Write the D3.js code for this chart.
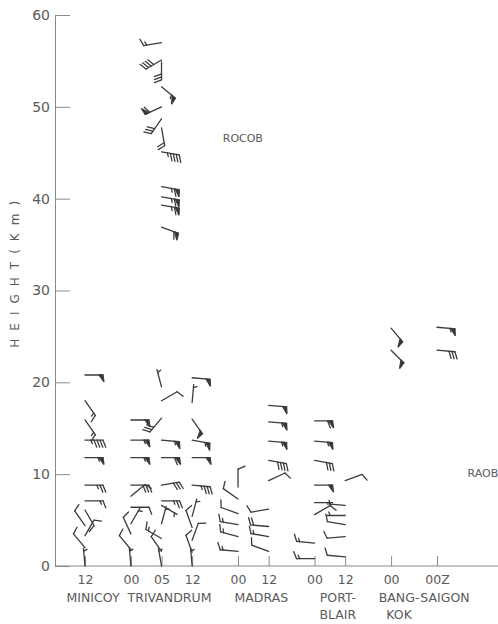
<!DOCTYPE html>
<html>
<head>
<meta charset="utf-8">
<script src="https://cdn.jsdelivr.net/npm/d3@7/dist/d3.min.js"></script>
<style>
  body { margin: 0; background: #fff; }
  text { font-family: "DejaVu Sans", sans-serif; fill: #5a5a5a; }
</style>
</head>
<body>
<script>
// stations in order along the x axis, and the observation columns (station, hour)
const stations = ['MINICOY', 'TRIVANDRUM', 'MADRAS', 'PORT-\nBLAIR', 'BANG-\nKOK', 'SAIGON'];
const columns = [
    ['MINICOY', '12'],
    ['TRIVANDRUM', '00'], ['TRIVANDRUM', '05'], ['TRIVANDRUM', '12'],
    ['MADRAS', '00'], ['MADRAS', '12'],
    ['PORT-\nBLAIR', '00'], ['PORT-\nBLAIR', '12'],
    ['BANG-\nKOK', '00'],
    ['SAIGON', '00Z']
];
const heightTicks = [0, 10, 20, 30, 40, 50, 60];

// wind barbs per column: [height km, direction deg (from), speed kt]
const minicoy12 = [
    [0, 355, 5], [2.0, 320, 10], [3.3, 30, 10], [4.4, 325, 10], [6.1, 150, 10],
    [7.1, 90, 15], [8.8, 90, 25], [11.8, 90, 55], [13.7, 90, 45],
    [15.9, 145, 15], [18.0, 145, 15], [20.8, 90, 50]
];
const trivandrum00 = [
    [0, 355, 5], [1.8, 320, 10], [3.5, 335, 10], [4.6, 30, 5], [6.4, 90, 10],
    [7.6, 50, 10], [8.8, 90, 30], [11.8, 90, 55], [13.7, 90, 55], [15.9, 90, 50]
];
const trivandrum05 = [
    [0, 350, 5], [1.6, 325, 10], [3.0, 300, 15], [4.6, 15, 5], [6.6, 120, 5],
    [7.1, 90, 25], [8.8, 80, 30], [11.8, 90, 60], [13.7, 95, 55],
    [16.1, 220, 30], [18.0, 60, 10], [19.5, 345, 5]
];
const trivandrum12 = [
    [0, 355, 5], [1.5, 340, 10], [2.8, 20, 10], [4.2, 340, 10], [5.4, 15, 5],
    [8.8, 95, 35], [11.8, 90, 50], [13.7, 100, 55], [16.0, 145, 50],
    [17.8, 5, 5], [20.5, 95, 50]
];
// rocket soundings at Trivandrum 05Z
const rocob05 = [
    [36.9, 110, 60], [39.3, 100, 65], [40.2, 100, 65], [41.3, 100, 65],
    [45.1, 100, 45], [47.7, 170, 20], [48.7, 215, 30], [50.0, 245, 60],
    [52.2, 130, 55], [54.9, 180, 30], [55.1, 240, 40], [57.0, 260, 15]
];
const madras00 = [
    [1.6, 275, 15], [3.2, 285, 15], [4.5, 280, 15], [5.7, 290, 10],
    [7.3, 305, 10], [8.6, 0, 10]
];
const madras12 = [
    [1.6, 290, 10], [3.2, 280, 15], [4.3, 275, 20], [6.2, 260, 10],
    [9.3, 65, 10], [11.5, 100, 40], [13.6, 95, 55], [15.7, 95, 55], [17.5, 95, 50]
];
const portBlair00 = [
    [0.8, 270, 15], [2.5, 275, 15], [5.6, 60, 10], [6.9, 90, 5],
    [8.8, 90, 50], [11.5, 100, 30], [13.6, 95, 55], [15.8, 90, 60]
];
const portBlair12 = [
    [1.0, 275, 10], [3.2, 265, 10], [4.5, 280, 10], [5.5, 270, 5],
    [6.6, 275, 5], [9.3, 70, 10]
];
const bangkok00 = [[23.5, 135, 50], [25.9, 140, 50]];
const saigon00 = [[23.5, 95, 30], [26.0, 95, 55]];

const barbsByColumn = [
    minicoy12, trivandrum00, trivandrum05.concat(rocob05), trivandrum12,
    madras00, madras12, portBlair00, portBlair12, bangkok00, saigon00
];

window.onload = () => {
    const width = 498;
    const height = 624;
    const x0 = 55, x1 = 498, yTop = 15, yBase = 566;

    const svg = d3.select('body')
                  .append('svg')
                  .attr('width', width)
                  .attr('height', height);

    // slot along x: step 1 inside a station, 1.5 between stations
    let slot = 0;
    const slots = columns.map((c, i) => {
        if (i > 0) slot += columns[i - 1][0] === c[0] ? 1 : 1.5;
        return slot;
    });

    const x = d3.scaleLinear().domain([0, slot]).range([85, 437]);
    const y = d3.scaleLinear().domain([0, 60]).range([yBase, yTop]);

    // y axis, ticks pointing inward
    const yAxis = svg.append('g')
        .attr('transform', `translate(${x0},0)`)
        .call(d3.axisLeft(y).tickValues(heightTicks).tickSize(-15).tickSizeOuter(0).tickPadding(5));
    yAxis.selectAll('path, line').attr('stroke', '#8a8a8a');
    yAxis.selectAll('text').style('font-size', '14px').attr('fill', '#5a5a5a');

    // base line
    svg.append('line')
        .attr('x1', x0).attr('x2', x1)
        .attr('y1', yBase).attr('y2', yBase)
        .attr('stroke', '#8a8a8a');

    // column ticks and hour labels
    const xAxis = svg.append('g')
        .attr('transform', `translate(0,${yBase})`)
        .call(d3.axisBottom(x).tickValues(slots)
              .tickFormat((d, i) => columns[i][1])
              .tickSize(-10).tickSizeOuter(0).tickPadding(9));
    xAxis.select('.domain').remove();
    xAxis.selectAll('line').attr('stroke', '#8a8a8a');
    xAxis.selectAll('text').style('font-size', '12.5px').attr('fill', '#5a5a5a');

    // station names
    stations.forEach((name) => {
        const idx = columns.map((c, i) => c[0] === name ? i : -1).filter(i => i >= 0);
        const cx = d3.mean(idx, i => x(slots[i])) + 8;
        name.split('\n').forEach((line, k) => {
            svg.append('text')
                .attr('x', cx)
                .attr('y', 602 + k * 17)
                .attr('text-anchor', 'middle')
                .style('font-size', '12.5px')
                .text(line);
        });
    });

    // y title
    svg.append('text')
        .attr('transform', `translate(19,${y(32.2)}) rotate(-90)`)
        .attr('text-anchor', 'middle')
        .style('font-size', '12px')
        .style('letter-spacing', '8px')
        .text('HEIGHT(Km)');

    // annotations
    svg.append('text')
        .attr('x', x(4.5)).attr('y', y(46.2))
        .style('font-size', '11px')
        .text('ROCOB');
    svg.append('text')
        .attr('x', x(12.5)).attr('y', y(9.7))
        .style('font-size', '11px')
        .text('RAOB');

    const barbs = svg.append('g').attr('class', 'barbs');
    barbsByColumn.forEach((list, i) => {
        list.forEach((d) => drawBarb(barbs, x(slots[i]), y(d[0]), d[1], d[2]));
    });
};

const drawBarb = (g, bx, by, dir, spd) => {
    const L = 18, F = 7, step = 3;
    const r = dir * Math.PI / 180;
    const ux = Math.sin(r), uy = -Math.cos(r);
    const px = -uy, py = ux; // clockwise side
    const tx = bx + ux * L, ty = by + uy * L;

    const b = g.append('g')
        .attr('stroke', '#3c3c3c')
        .attr('stroke-width', 1.3)
        .attr('stroke-linecap', 'round')
        .attr('fill', 'none');

    b.append('line')
        .attr('x1', bx).attr('y1', by)
        .attr('x2', tx).attr('y2', ty);

    let rem = Math.round(spd / 5) * 5;
    let s = 0;
    while (rem >= 50) {
        const ax = tx - ux * s, ay = ty - uy * s;
        const cx = tx - ux * (s + 4), cy = ty - uy * (s + 4);
        b.append('path')
            .attr('d', `M${ax},${ay} L${ax + px * F + ux},${ay + py * F + uy} L${cx},${cy}Z`)
            .attr('fill', '#333');
        s += 5;
        rem -= 50;
    }
    while (rem >= 10) {
        const ax = tx - ux * s, ay = ty - uy * s;
        b.append('line')
            .attr('x1', ax).attr('y1', ay)
            .attr('x2', ax + px * F + ux * F * 0.4)
            .attr('y2', ay + py * F + uy * F * 0.4);
        s += step;
        rem -= 10;
    }
    if (rem >= 5) {
        if (s === 0) s = step;
        const ax = tx - ux * s, ay = ty - uy * s;
        b.append('line')
            .attr('x1', ax).attr('y1', ay)
            .attr('x2', ax + px * F * 0.5 + ux * F * 0.2)
            .attr('y2', ay + py * F * 0.5 + uy * F * 0.2);
    }
};
</script>
</body>
</html>
